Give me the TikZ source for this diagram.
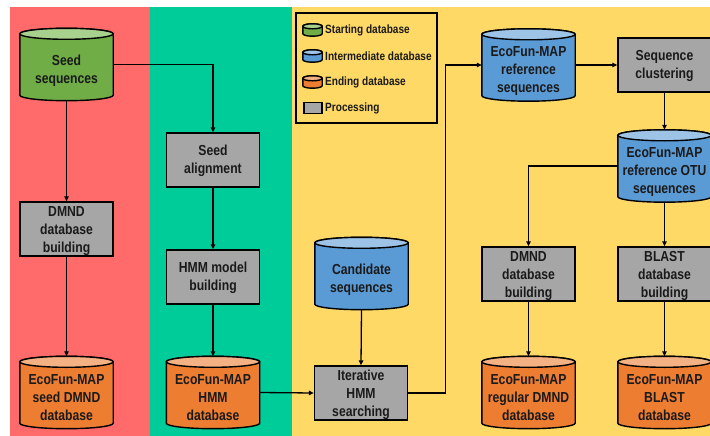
\documentclass[tikz,border=0pt]{standalone}
\usepackage{fontspec}
\setmainfont{Liberation Sans}
\newfontfamily\narrowsans[FakeStretch=0.84]{Liberation Sans}
\usetikzlibrary{arrows.meta,calc}

\definecolor{panelred}{HTML}{FF6B6B}
\definecolor{panelgreen}{HTML}{00CC99}
\definecolor{panelyellow}{HTML}{FFD966}
\definecolor{startbody}{HTML}{70AD47}
\definecolor{starttop}{HTML}{A9D18E}
\definecolor{midbody}{HTML}{5B9BD5}
\definecolor{midtop}{HTML}{9DC3E6}
\definecolor{endbody}{HTML}{ED7D31}
\definecolor{endtop}{HTML}{F4B183}
\definecolor{procgray}{HTML}{A6A6A6}
\definecolor{inkdark}{HTML}{1A1A1A}

\pgfdeclarelayer{panels}
\pgfdeclarelayer{shapes}
\pgfsetlayers{panels,shapes,main}

% cylinder drawn around a named node: name, body colour, top colour, cap radius
\newcommand\cylbox[4]{%
  \begin{pgfonlayer}{shapes}
    \draw[cylline, fill=#2] let \p1=(#1.north west), \p2=(#1.south east), \n1={(\x2-\x1)/2} in
      (\x1,\y1-#4) -- (\x1,\y2+#4)
      arc[start angle=180, end angle=360, x radius=\n1, y radius=#4]
      -- (\x2,\y1-#4)
      arc[start angle=0, end angle=180, x radius=\n1, y radius=#4] -- cycle;
    \draw[cylline, fill=#3] let \p1=(#1.north west), \p2=(#1.south east), \n1={(\x2-\x1)/2} in
      (\x1+\n1,\y1-#4) ellipse[x radius=\n1, y radius=#4];
  \end{pgfonlayer}}

% centred lines of text, lowered by the optional amount
\newcommand\lowtext[2][6pt]{\raisebox{-#1}[\height][\depth]{\begin{tabular}{@{}c@{}}#2\end{tabular}}}

\tikzset{
  cylline/.style={line width=1.4pt, draw=black},
  mainfont/.style={font=\narrowsans\bfseries\fontsize{14.5}{18}\selectfont, text=inkdark},
  procbox/.style={mainfont, draw=black, line width=1.4pt, fill=procgray,
    minimum width=93, minimum height=54, inner sep=0pt},
  dbnode/.style={mainfont, minimum width=93, minimum height=72, inner sep=0pt},
  arr/.style={-{Triangle[length=5pt,width=4.5pt]}, line width=1.3pt},
  legtext/.style={anchor=west, font=\narrowsans\bfseries\fontsize{12}{14}\selectfont, text=inkdark, inner sep=0pt},
  legicon/.style={minimum width=19, minimum height=12, inner sep=0pt}
}

\begin{document}
\begin{tikzpicture}[x=1pt, y=-1pt]
  \useasboundingbox (0,0) rectangle (710,436);

  % coloured stages
  \begin{pgfonlayer}{panels}
    \fill[white] (0,0) rectangle (710,436);
    \fill[panelred] (10,7) rectangle (150,436);
    \fill[panelgreen] (150,7) rectangle (292,436);
    \fill[panelyellow] (292,7) rectangle (710,436);
  \end{pgfonlayer}

  % databases
  \node[dbnode] (seed) at (66.5,64.5) {\lowtext{Seed\\sequences}};
  \node[dbnode] (seeddb) at (66.5,392.5) {\lowtext{EcoFun-MAP\\seed DMND\\database}};
  \node[dbnode] (hmmdb) at (213,392.5) {\lowtext{EcoFun-MAP\\HMM\\database}};
  \node[dbnode] (cand) at (361.5,273.5) {\lowtext{Candidate\\sequences}};
  \node[dbnode] (refseq) at (528.5,65) {\lowtext{EcoFun-MAP\\reference\\sequences}};
  \node[dbnode] (otu) at (664.5,166) {\lowtext{EcoFun-MAP\\reference OTU\\sequences}};
  \node[dbnode] (regdb) at (528.5,392.5) {\lowtext{EcoFun-MAP\\regular DMND\\database}};
  \node[dbnode] (blastdb) at (664.5,392.5) {\lowtext{EcoFun-MAP\\BLAST\\database}};

  \cylbox{seed}{startbody}{starttop}{5.5pt}
  \cylbox{seeddb}{endbody}{endtop}{5.5pt}
  \cylbox{hmmdb}{endbody}{endtop}{5.5pt}
  \cylbox{cand}{midbody}{midtop}{5.5pt}
  \cylbox{refseq}{midbody}{midtop}{5.5pt}
  \cylbox{otu}{midbody}{midtop}{5.5pt}
  \cylbox{regdb}{endbody}{endtop}{5.5pt}
  \cylbox{blastdb}{endbody}{endtop}{5.5pt}

  % processing steps
  \node[procbox] (dmndL) at (66.5,229) {\lowtext[2pt]{DMND\\database\\building}};
  \node[procbox] (align) at (213,160) {\lowtext[1pt]{Seed\\alignment}};
  \node[procbox] (hmmb) at (213,277) {\lowtext[1pt]{HMM model\\building}};
  \node[procbox] (iter) at (361,393) {\lowtext[2pt]{Iterative\\HMM\\searching}};
  \node[procbox] (clust) at (664.5,65) {\lowtext[1pt]{Sequence\\clustering}};
  \node[procbox] (dmndR) at (528.5,274) {\lowtext[2pt]{DMND\\database\\building}};
  \node[procbox] (blast) at (664.5,274) {\lowtext[2pt]{BLAST\\database\\building}};

  % legend
  \node[draw=black, line width=1.2pt, minimum width=141, minimum height=110, inner sep=0pt] (legend) at (366.5,68) {};
  \node[legicon] (lgA) at (312.5,30) {};
  \node[legicon] (lgB) at (312.5,56) {};
  \node[legicon] (lgC) at (312.5,82) {};
  \node[legicon, draw=black, line width=1.1pt, fill=procgray, minimum width=18, minimum height=11] (lgD) at (313,108) {};
  \cylbox{lgA}{startbody}{starttop}{2.5pt}
  \cylbox{lgB}{midbody}{midtop}{2.5pt}
  \cylbox{lgC}{endbody}{endtop}{2.5pt}
  \node[legtext] (ltA) at (325,30) {Starting database};
  \node[legtext] (ltB) at (325,56) {Intermediate database};
  \node[legtext] (ltC) at (325,82) {Ending database};
  \node[legtext] (ltD) at (325,108) {Processing};

  % flow
  \draw[arr] (seed.east) -| (align.north);
  \draw[arr] (seed.south) -- (dmndL.north);
  \draw[arr] (dmndL.south) -- (seeddb.north);
  \draw[arr] (align.south) -- (hmmb.north);
  \draw[arr] (hmmb.south) -- (hmmdb.north);
  \draw[arr] (hmmdb.east) -- (iter.west);
  \draw[arr] (cand.south) -- (iter.north);
  \draw[arr] (iter.east) -- ++(37,0) |- (refseq.west);
  \draw[arr] (refseq.east) -- (clust.west);
  \draw[arr] (clust.south) -- (otu.north);
  \draw[arr] (otu.west) -| (dmndR.north);
  \draw[arr] (otu.south) -- (blast.north);
  \draw[arr] (dmndR.south) -- (regdb.north);
  \draw[arr] (blast.south) -- (blastdb.north);
\end{tikzpicture}
\end{document}
